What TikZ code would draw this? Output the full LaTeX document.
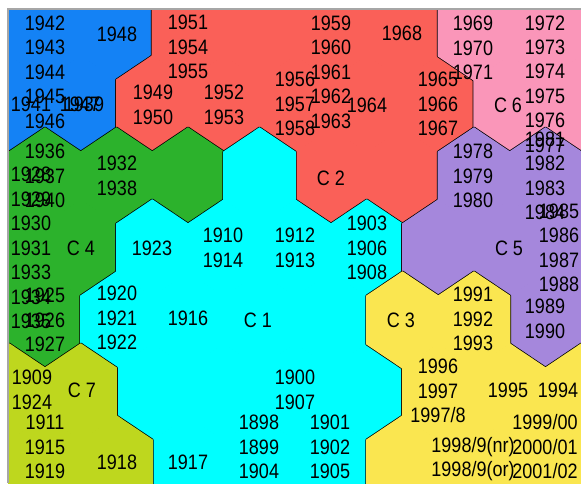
\documentclass[tikz,border=0pt]{standalone}
\usepackage{fontspec}
\setmainfont{Liberation Sans}

\definecolor{cblue}{RGB}{20,130,245}
\definecolor{cred}{RGB}{250,96,88}
\definecolor{cpink}{RGB}{250,150,185}
\definecolor{cgreen}{RGB}{44,178,44}
\definecolor{ccyan}{RGB}{0,255,255}
\definecolor{cpurple}{RGB}{165,135,220}
\definecolor{cyellow}{RGB}{250,230,80}
\definecolor{colive}{RGB}{190,215,30}

% one map unit, centre (#1,#2)
\newcommand{\hexcell}[2]{(#1,#2-48) -- (#1+35.75,#2-24) -- (#1+35.75,#2+24) -- (#1,#2+48) -- (#1-35.75,#2+24) -- (#1-35.75,#2-24) -- cycle}
% a cluster: black rim first, then the fill over the inner edges
\newcommand{\cluster}[2]{%
  \foreach \a/\b in {#2} \draw[rim] \hexcell{\a}{\b};
  \foreach \a/\b in {#2} \filldraw[fill=#1,draw=#1,line width=1.3pt,line join=round] \hexcell{\a}{\b};}

\begin{document}
\begin{tikzpicture}[x=1pt,y=-1pt,
  every node/.style={font=\fontsize{18}{21.1}\selectfont},
  lbl/.style={align=center,inner sep=0pt,yscale=1.16},
  rim/.style={draw=black,line width=2.8pt,line join=round}]
\useasboundingbox (0,0) rectangle (581,483);
\fill[white] (0,0) rectangle (581,483);
\begin{scope}
\clip (8,9) rectangle (581,483);
\cluster{cblue}{-26.5/32,45/32,116.5/32,9.25/104,80.75/104}
\cluster{cred}{188/32,259.5/32,331/32,402.5/32,152.25/104,223.75/104,295.25/104,366.75/104,438.25/104,331/176,402.5/176}
\cluster{cpink}{474/32,545.5/32,617/32,509.75/104,581.25/104}
\cluster{cgreen}{-26.5/176,45/176,116.5/176,188/176,9.25/248,80.75/248,-26.5/320,45/320}
\cluster{ccyan}{259.5/176,152.25/248,223.75/248,295.25/248,366.75/248,116.5/320,188/320,259.5/320,331/320,152.25/392,223.75/392,295.25/392,366.75/392,188/464,259.5/464,331/464}
\cluster{cpurple}{474/176,545.5/176,617/176,438.25/248,509.75/248,581.25/248,545.5/320,617/320}
\cluster{cyellow}{402.5/320,474/320,438.25/392,509.75/392,581.25/392,402.5/464,474/464,545.5/464,617/464}
\cluster{colive}{9.25/392,80.75/392,-26.5/464,45/464,116.5/464}
\end{scope}
\draw[gray!70,line width=1.5pt] (8,483) -- (8,9) -- (581,9);

% cluster names
\node[lbl] (c1) at (258,320) {C 1};
\node[lbl] (c2) at (331,178) {C 2};
\node[lbl] (c3) at (401,320) {C 3};
\node[lbl] (c4) at (81,248) {C 4};
\node[lbl] (c5) at (509,248) {C 5};
\node[lbl] (c6) at (508,105) {C 6};
\node[lbl] (c7) at (82,390) {C 7};

% years on their units
\node[lbl] (y1942) at (45,72) {1942\\1943\\1944\\1945\\1946};
\node[lbl] (y1948) at (117,34) {1948};
\node[lbl] (y1941) at (31,104) {1941};
\node[lbl] (y1939) at (84,104) {1939};
\node[lbl] (y1947) at (80,104) {1947};
\node[lbl] (y1951) at (188,47) {1951\\1954\\1955};
\node[lbl] (y1949) at (153,105) {1949\\1950};
\node[lbl] (y1952) at (224,105) {1952\\1953};
\node[lbl] (y1956) at (295,104) {1956\\1957\\1958};
\node[lbl] (y1959) at (331,72) {1959\\1960\\1961\\1962\\1963};
\node[lbl] (y1964) at (367,105) {1964};
\node[lbl] (y1968) at (402,33) {1968};
\node[lbl] (y1965) at (438,104) {1965\\1966\\1967};
\node[lbl] (y1969) at (473,48) {1969\\1970\\1971};
\node[lbl] (y1972) at (545,84) {1972\\1973\\1974\\1975\\1976\\1977};
\node[lbl] (y1981) at (545,176) {1981\\1982\\1983\\1984};
\node[lbl] (y1985) at (559,248) {1985\\1986\\1987\\1988};
\node[lbl] (y1989) at (545,319) {1989\\1990};
\node[lbl] (y1978) at (473,176) {1978\\1979\\1980};
\node[lbl] (y1991) at (473,319) {1991\\1992\\1993};
\node[lbl] (y1936) at (45,176) {1936\\1937\\1940};
\node[lbl] (y1928) at (31,248) {1928\\1929\\1930\\1931\\1933\\1934\\1935};
\node[lbl] (y1932) at (117,176) {1932\\1938};
\node[lbl] (y1925) at (45,320) {1925\\1926\\1927};
\node[lbl] (y1920) at (117,318) {1920\\1921\\1922};
\node[lbl] (y1916) at (188,318) {1916};
\node[lbl] (y1923) at (152,248) {1923};
\node[lbl] (y1910) at (223,248) {1910\\1914};
\node[lbl] (y1912) at (295,248) {1912\\1913};
\node[lbl] (y1903) at (367,248) {1903\\1906\\1908};
\node[lbl] (y1900) at (295,390) {1900\\1907};
\node[lbl] (y1898) at (259,447) {1898\\1899\\1904};
\node[lbl] (y1901) at (330,447) {1901\\1902\\1905};
\node[lbl] (y1917) at (188,462) {1917};
\node[lbl] (y1918) at (117,462) {1918};
\node[lbl] (y1911) at (45,447) {1911\\1915\\1919};
\node[lbl] (y1909) at (32,390) {1909\\1924};
\node[lbl] (y1996) at (438,391) {1996\\1997\\1997/8};
\node[lbl] (y1995) at (508,390) {1995};
\node[lbl] (y1994) at (558,390) {1994};
\node[lbl] (y1999) at (545,447) {1999/00\\2000/01\\2001/02};
\node[lbl] (y1998) at (473,459) {1998/9(nr)\\1998/9(or)};
\end{tikzpicture}
\end{document}
